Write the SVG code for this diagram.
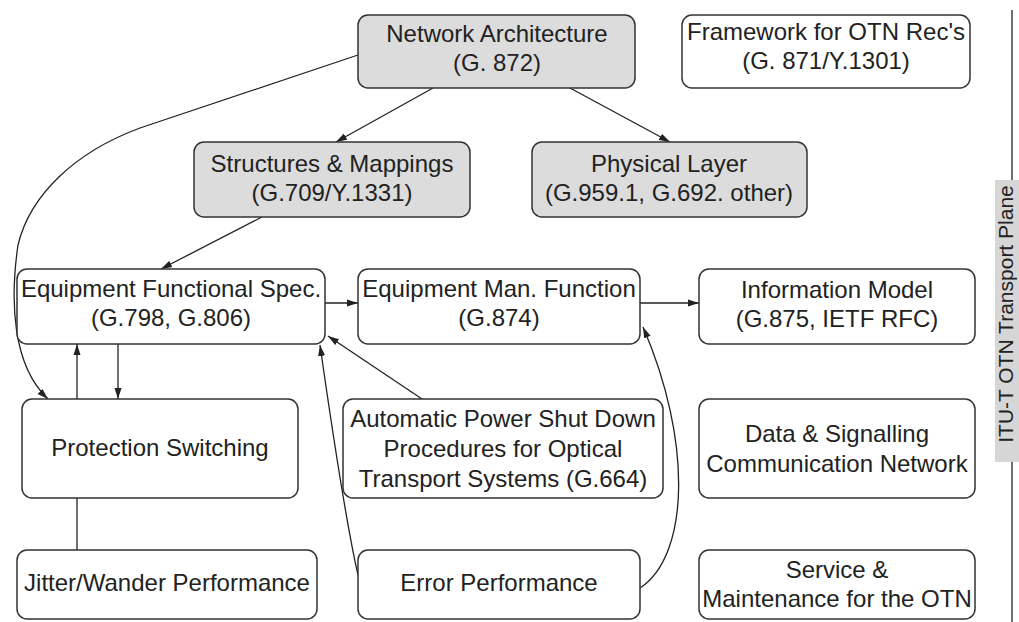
<svg xmlns="http://www.w3.org/2000/svg" width="1019" height="622" viewBox="0 0 1019 622">
<defs>
<marker id="arr" markerUnits="userSpaceOnUse" markerWidth="12" markerHeight="8" refX="11" refY="4" orient="auto">
<path d="M0,0.5 L11,4 L0,7.5 z" fill="#222"/>
</marker>
<style>
.box{fill:#fff;stroke:#333;stroke-width:1.5}
.gray{fill:#dcdcdc;stroke:#333;stroke-width:1.5}
.t{font-family:"Liberation Sans",Arial,sans-serif;font-size:24px;fill:#222;text-anchor:middle}
.c{fill:none;stroke:#222;stroke-width:1.3}
.a{marker-end:url(#arr)}
</style>
</defs>
<rect width="1019" height="622" fill="#fff"/>

<g id="connectors">
<path class="c a" d="M433,88 L336,142"/>
<path class="c a" d="M570,88 L670,142"/>
<path class="c a" d="M262,217 L161,269"/>
<path class="c a" d="M358,55 L140,128 C75,152 30,195 18,245 C10,300 12,365 48,399"/>
<path class="c a" d="M77,399 L77,344"/>
<path class="c a" d="M118,344 L118,399"/>
<path class="c" d="M77,498 L77,550"/>
<path class="c a" d="M325,303 L358,303"/>
<path class="c a" d="M640,303 L699,303"/>
<path class="c a" d="M422,399 L328,336"/>
<path class="c a" d="M358,575 C350,540 335,450 320,345"/>
<path class="c a" d="M640,588 C690,555 692,440 643,327"/>
</g>

<g id="network-architecture">
<rect class="gray" x="358" y="15" width="277" height="73" rx="10"/>
<text class="t" x="497" y="42">Network Architecture</text>
<text class="t" x="497" y="71">(G. 872)</text>
</g>
<g id="framework">
<rect class="box" x="682" y="15" width="288" height="73" rx="10"/>
<text class="t" x="826" y="40">Framework for OTN Rec's</text>
<text class="t" x="826" y="69">(G. 871/Y.1301)</text>
</g>
<g id="structures-mappings">
<rect class="gray" x="194" y="142" width="276" height="75" rx="10"/>
<text class="t" x="332" y="172">Structures &amp; Mappings</text>
<text class="t" x="332" y="201">(G.709/Y.1331)</text>
</g>
<g id="physical-layer">
<rect class="gray" x="532" y="142" width="275" height="75" rx="10"/>
<text class="t" x="669" y="172">Physical Layer</text>
<text class="t" x="669" y="201">(G.959.1, G.692. other)</text>
</g>
<g id="equipment-functional-spec">
<rect class="box" x="17" y="269" width="308" height="75" rx="10"/>
<text class="t" x="171" y="297">Equipment Functional Spec.</text>
<text class="t" x="171" y="326">(G.798, G.806)</text>
</g>
<g id="equipment-man-function">
<rect class="box" x="358" y="269" width="282" height="75" rx="10"/>
<text class="t" x="499" y="297">Equipment Man. Function</text>
<text class="t" x="499" y="326">(G.874)</text>
</g>
<g id="information-model">
<rect class="box" x="699" y="269" width="276" height="75" rx="10"/>
<text class="t" x="837" y="298">Information Model</text>
<text class="t" x="837" y="327">(G.875, IETF RFC)</text>
</g>
<g id="protection-switching">
<rect class="box" x="22" y="399" width="276" height="99" rx="10"/>
<text class="t" x="160" y="456">Protection Switching</text>
</g>
<g id="automatic-power-shut-down">
<rect class="box" x="343" y="399" width="320" height="99" rx="10"/>
<text class="t" x="503" y="427">Automatic Power Shut Down</text>
<text class="t" x="503" y="457">Procedures for Optical</text>
<text class="t" x="503" y="487">Transport Systems (G.664)</text>
</g>
<g id="data-signalling">
<rect class="box" x="699" y="399" width="276" height="99" rx="10"/>
<text class="t" x="837" y="442">Data &amp; Signalling</text>
<text class="t" x="837" y="472">Communication Network</text>
</g>
<g id="jitter-wander">
<rect class="box" x="17" y="550" width="300" height="69" rx="10"/>
<text class="t" x="167" y="591">Jitter/Wander Performance</text>
</g>
<g id="error-performance">
<rect class="box" x="358" y="550" width="282" height="69" rx="10"/>
<text class="t" x="499" y="591">Error Performance</text>
</g>
<g id="service-maintenance">
<rect class="box" x="699" y="550" width="276" height="69" rx="10"/>
<text class="t" x="837" y="578">Service &amp;</text>
<text class="t" x="837" y="607">Maintenance for the OTN</text>
</g>

<g id="plane-label">
<line x1="1012" y1="10" x2="1012" y2="180" stroke="#222" stroke-width="1.3"/>
<line x1="1012" y1="462" x2="1012" y2="622" stroke="#222" stroke-width="1.3"/>
<rect x="995" y="180" width="24" height="282" fill="#d6d6d6"/>
<text x="0" y="0" transform="translate(1013,314) rotate(-90)" style="font-family:'Liberation Sans',Arial,sans-serif;font-size:21px;fill:#222;text-anchor:middle">ITU-T OTN Transport Plane</text>
</g>
</svg>
